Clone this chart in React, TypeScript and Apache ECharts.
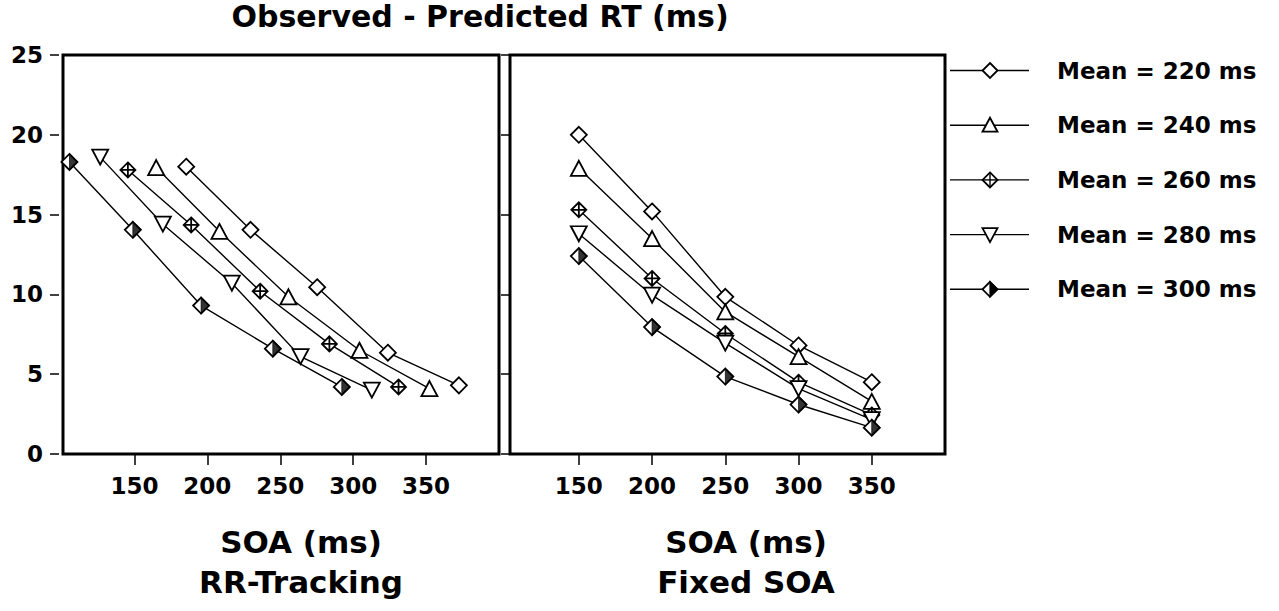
import React, { useEffect, useRef } from "react";
import * as echarts from "echarts";

const FONT = "'DejaVu Sans', 'Open Sans', sans-serif";

// ---------- data ----------
const meanLabels = ["Mean = 220 ms", "Mean = 240 ms", "Mean = 260 ms", "Mean = 280 ms", "Mean = 300 ms"];

// Fixed SOA panel
const soaFixed = [150, 200, 250, 300, 350];
const fixed220 = [20.0, 15.2, 9.85, 6.8, 4.5];
const fixed240 = [17.9, 13.5, 8.9, 6.1, 3.3];
const fixed260 = [15.3, 11.0, 7.55, 4.5, 2.45];
const fixed280 = [13.8, 9.95, 6.95, 4.1, 2.15];
const fixed300 = [12.4, 7.95, 4.85, 3.1, 1.65];

// RR-Tracking panel (SOA varies)
const rr220Soa = [185.5, 229.6, 275.3, 323.8, 372.5];
const rr220Rt = [18.0, 14.05, 10.45, 6.35, 4.3];
const rr240Soa = [164.9, 208.3, 255.6, 304.3, 352.3];
const rr240Rt = [17.95, 13.95, 9.85, 6.5, 4.1];
const rr260Soa = [145.5, 188.9, 236.2, 283.7, 331.1];
const rr260Rt = [17.8, 14.35, 10.2, 6.9, 4.2];
const rr280Soa = [126.5, 169.5, 216.8, 263.9, 312.8];
const rr280Rt = [18.6, 14.4, 10.7, 6.1, 4.0];
const rr300Soa = [105.4, 148.9, 195.7, 244.9, 292.2];
const rr300Rt = [18.3, 14.05, 9.3, 6.6, 4.2];

const xTickValues = [150, 200, 250, 300, 350];
const panelTitles = ["RR-Tracking", "Fixed SOA"];

// ---------- symbols ----------
const CROSS_DIAMOND = "path://M0,-1L1,0L0,1L-1,0Z M0,-1L0,1 M-1,0L1,0";
const HALF_DIAMOND = "path://M0,-1L1,0L0,1Z";

type Spec = { symbol: string; rotate: number; size: number[]; half: boolean };
const specs: Spec[] = [
  { symbol: "diamond", rotate: 0, size: [16, 16], half: false },
  { symbol: "triangle", rotate: 0, size: [16, 15], half: false },
  { symbol: CROSS_DIAMOND, rotate: 0, size: [15, 15], half: false },
  { symbol: "triangle", rotate: 180, size: [16, 15], half: false },
  { symbol: "diamond", rotate: 0, size: [16, 16], half: true },
];

const zip = (xs: number[], ys: number[]) => xs.map((x, i) => [x, ys[i]]);

export default function App() {
  const ref = useRef<HTMLDivElement>(null);

  useEffect(() => {
    if (!ref.current) return;
    const chart = echarts.init(ref.current, undefined, { renderer: "svg" });

    const rrData = [
      zip(rr220Soa, rr220Rt),
      zip(rr240Soa, rr240Rt),
      zip(rr260Soa, rr260Rt),
      zip(rr280Soa, rr280Rt),
      zip(rr300Soa, rr300Rt),
    ];
    const fxData = [fixed220, fixed240, fixed260, fixed280, fixed300].map((ys) => zip(soaFixed, ys));

    const series: any[] = [];
    [rrData, fxData].forEach((panel, p) => {
      panel.forEach((data, i) => {
        const s = specs[i];
        series.push({
          type: "line",
          name: meanLabels[i],
          xAxisIndex: p,
          yAxisIndex: p,
          data,
          symbol: s.symbol,
          symbolSize: s.size,
          symbolRotate: s.rotate,
          showAllSymbol: true,
          lineStyle: { color: "#000", width: 1.4 },
          itemStyle: { color: "#fff", borderColor: "#000", borderWidth: 1.8 },
          z: 2 + i,
        });
        if (s.half) {
          series.push({
            type: "scatter",
            name: meanLabels[i] + " fill",
            xAxisIndex: p,
            yAxisIndex: p,
            data,
            symbol: HALF_DIAMOND,
            symbolSize: [8, 16],
            symbolOffset: [4, 0],
            itemStyle: { color: "#000", borderColor: "#000", borderWidth: 1.2 },
            z: 3 + i,
          });
        }
      });
    });

    // legend drawn as graphics
    const els: any[] = [];
    const lx1 = 950, lx2 = 1029, cx = 990, tx = 1057;
    meanLabels.forEach((label, i) => {
      const y = 70.5 + i * 54.7;
      const h = 7.5;
      els.push({
        type: "line",
        shape: { x1: lx1, y1: y, x2: lx2, y2: y },
        style: { stroke: "#000", lineWidth: 1.4 },
        z: 10,
      });
      const mStyle = { fill: "#fff", stroke: "#000", lineWidth: 1.8 };
      const diamond = [[cx, y - h], [cx + h, y], [cx, y + h], [cx - h, y]];
      if (i === 0) {
        els.push({ type: "polygon", shape: { points: diamond }, style: mStyle, z: 11 });
      } else if (i === 1) {
        els.push({ type: "polygon", shape: { points: [[cx, y - h], [cx + h, y + h - 1], [cx - h, y + h - 1]] }, style: mStyle, z: 11 });
      } else if (i === 2) {
        els.push({ type: "polygon", shape: { points: diamond }, style: mStyle, z: 11 });
        els.push({ type: "line", shape: { x1: cx, y1: y - h, x2: cx, y2: y + h }, style: { stroke: "#000", lineWidth: 1.4 }, z: 12 });
        els.push({ type: "line", shape: { x1: cx - h, y1: y, x2: cx + h, y2: y }, style: { stroke: "#000", lineWidth: 1.4 }, z: 12 });
      } else if (i === 3) {
        els.push({ type: "polygon", shape: { points: [[cx, y + h], [cx + h, y - h + 1], [cx - h, y - h + 1]] }, style: mStyle, z: 11 });
      } else {
        els.push({ type: "polygon", shape: { points: diamond }, style: mStyle, z: 11 });
        els.push({ type: "polygon", shape: { points: [[cx, y - h], [cx + h, y], [cx, y + h]] }, style: { fill: "#000", stroke: "#000", lineWidth: 1.2 }, z: 12 });
      }
      els.push({
        type: "text",
        x: tx,
        y,
        style: { text: label, font: `bold 23px ${FONT}`, fill: "#000", align: "left", verticalAlign: "middle" },
        z: 11,
      });
    });

    // axis titles under each panel
    const nameCenters = [301, 746];
    nameCenters.forEach((x, p) => {
      els.push({
        type: "text",
        x,
        y: 542,
        style: { text: "SOA (ms)", font: `bold 31px ${FONT}`, fill: "#000", align: "center", verticalAlign: "middle" },
      });
      els.push({
        type: "text",
        x,
        y: 582,
        style: { text: panelTitles[p], font: `bold 31px ${FONT}`, fill: "#000", align: "center", verticalAlign: "middle" },
      });
    });

    const xAxisBase = (gridIndex: number, min: number) => ({
      type: "value",
      gridIndex,
      min,
      max: 400,
      axisLine: { show: false },
      splitLine: { show: false },
      axisTick: { show: true, inside: false, length: 11, lineStyle: { color: "#000", width: 1.5 }, customValues: xTickValues },
      axisLabel: {
        show: true,
        margin: 20,
        color: "#000",
        fontFamily: FONT,
        fontWeight: "bold",
        fontSize: 23,
        customValues: xTickValues,
      },
    });

    chart.setOption({
      animation: false,
      backgroundColor: "#fff",
      title: {
        text: "Observed - Predicted RT (ms)",
        left: 480,
        top: 1,
        textAlign: "center",
        padding: 0,
        textStyle: { fontFamily: FONT, fontWeight: "bold", fontSize: 30, color: "#000" },
      },
      grid: [
        { left: 63, top: 55, width: 436, height: 399, show: true, borderColor: "#000", borderWidth: 3, backgroundColor: "transparent" },
        { left: 510, top: 55, width: 435, height: 399, show: true, borderColor: "#000", borderWidth: 3, backgroundColor: "transparent" },
      ],
      xAxis: [xAxisBase(0, 101), xAxisBase(1, 103)],
      yAxis: [
        {
          type: "value",
          gridIndex: 0,
          min: 0,
          max: 25,
          interval: 5,
          offset: 4,
          axisLine: { show: false },
          splitLine: { show: false },
          axisTick: { show: true, inside: false, length: 9, lineStyle: { color: "#000", width: 1.5 } },
          axisLabel: { show: true, margin: 16, color: "#000", fontFamily: FONT, fontWeight: "bold", fontSize: 23 },
        },
        {
          type: "value",
          gridIndex: 1,
          min: 0,
          max: 25,
          interval: 5,
          axisLine: { show: false },
          splitLine: { show: false },
          axisTick: { show: true, inside: false, length: 9, lineStyle: { color: "#000", width: 1.5 } },
          axisLabel: { show: false },
        },
      ],
      graphic: els,
      series,
    });

    return () => chart.dispose();
  }, []);

  return (
    <div
      ref={ref}
      style={{ position: "fixed", left: 0, top: 0, width: 1279, height: 611, background: "#fff" }}
    />
  );
}
